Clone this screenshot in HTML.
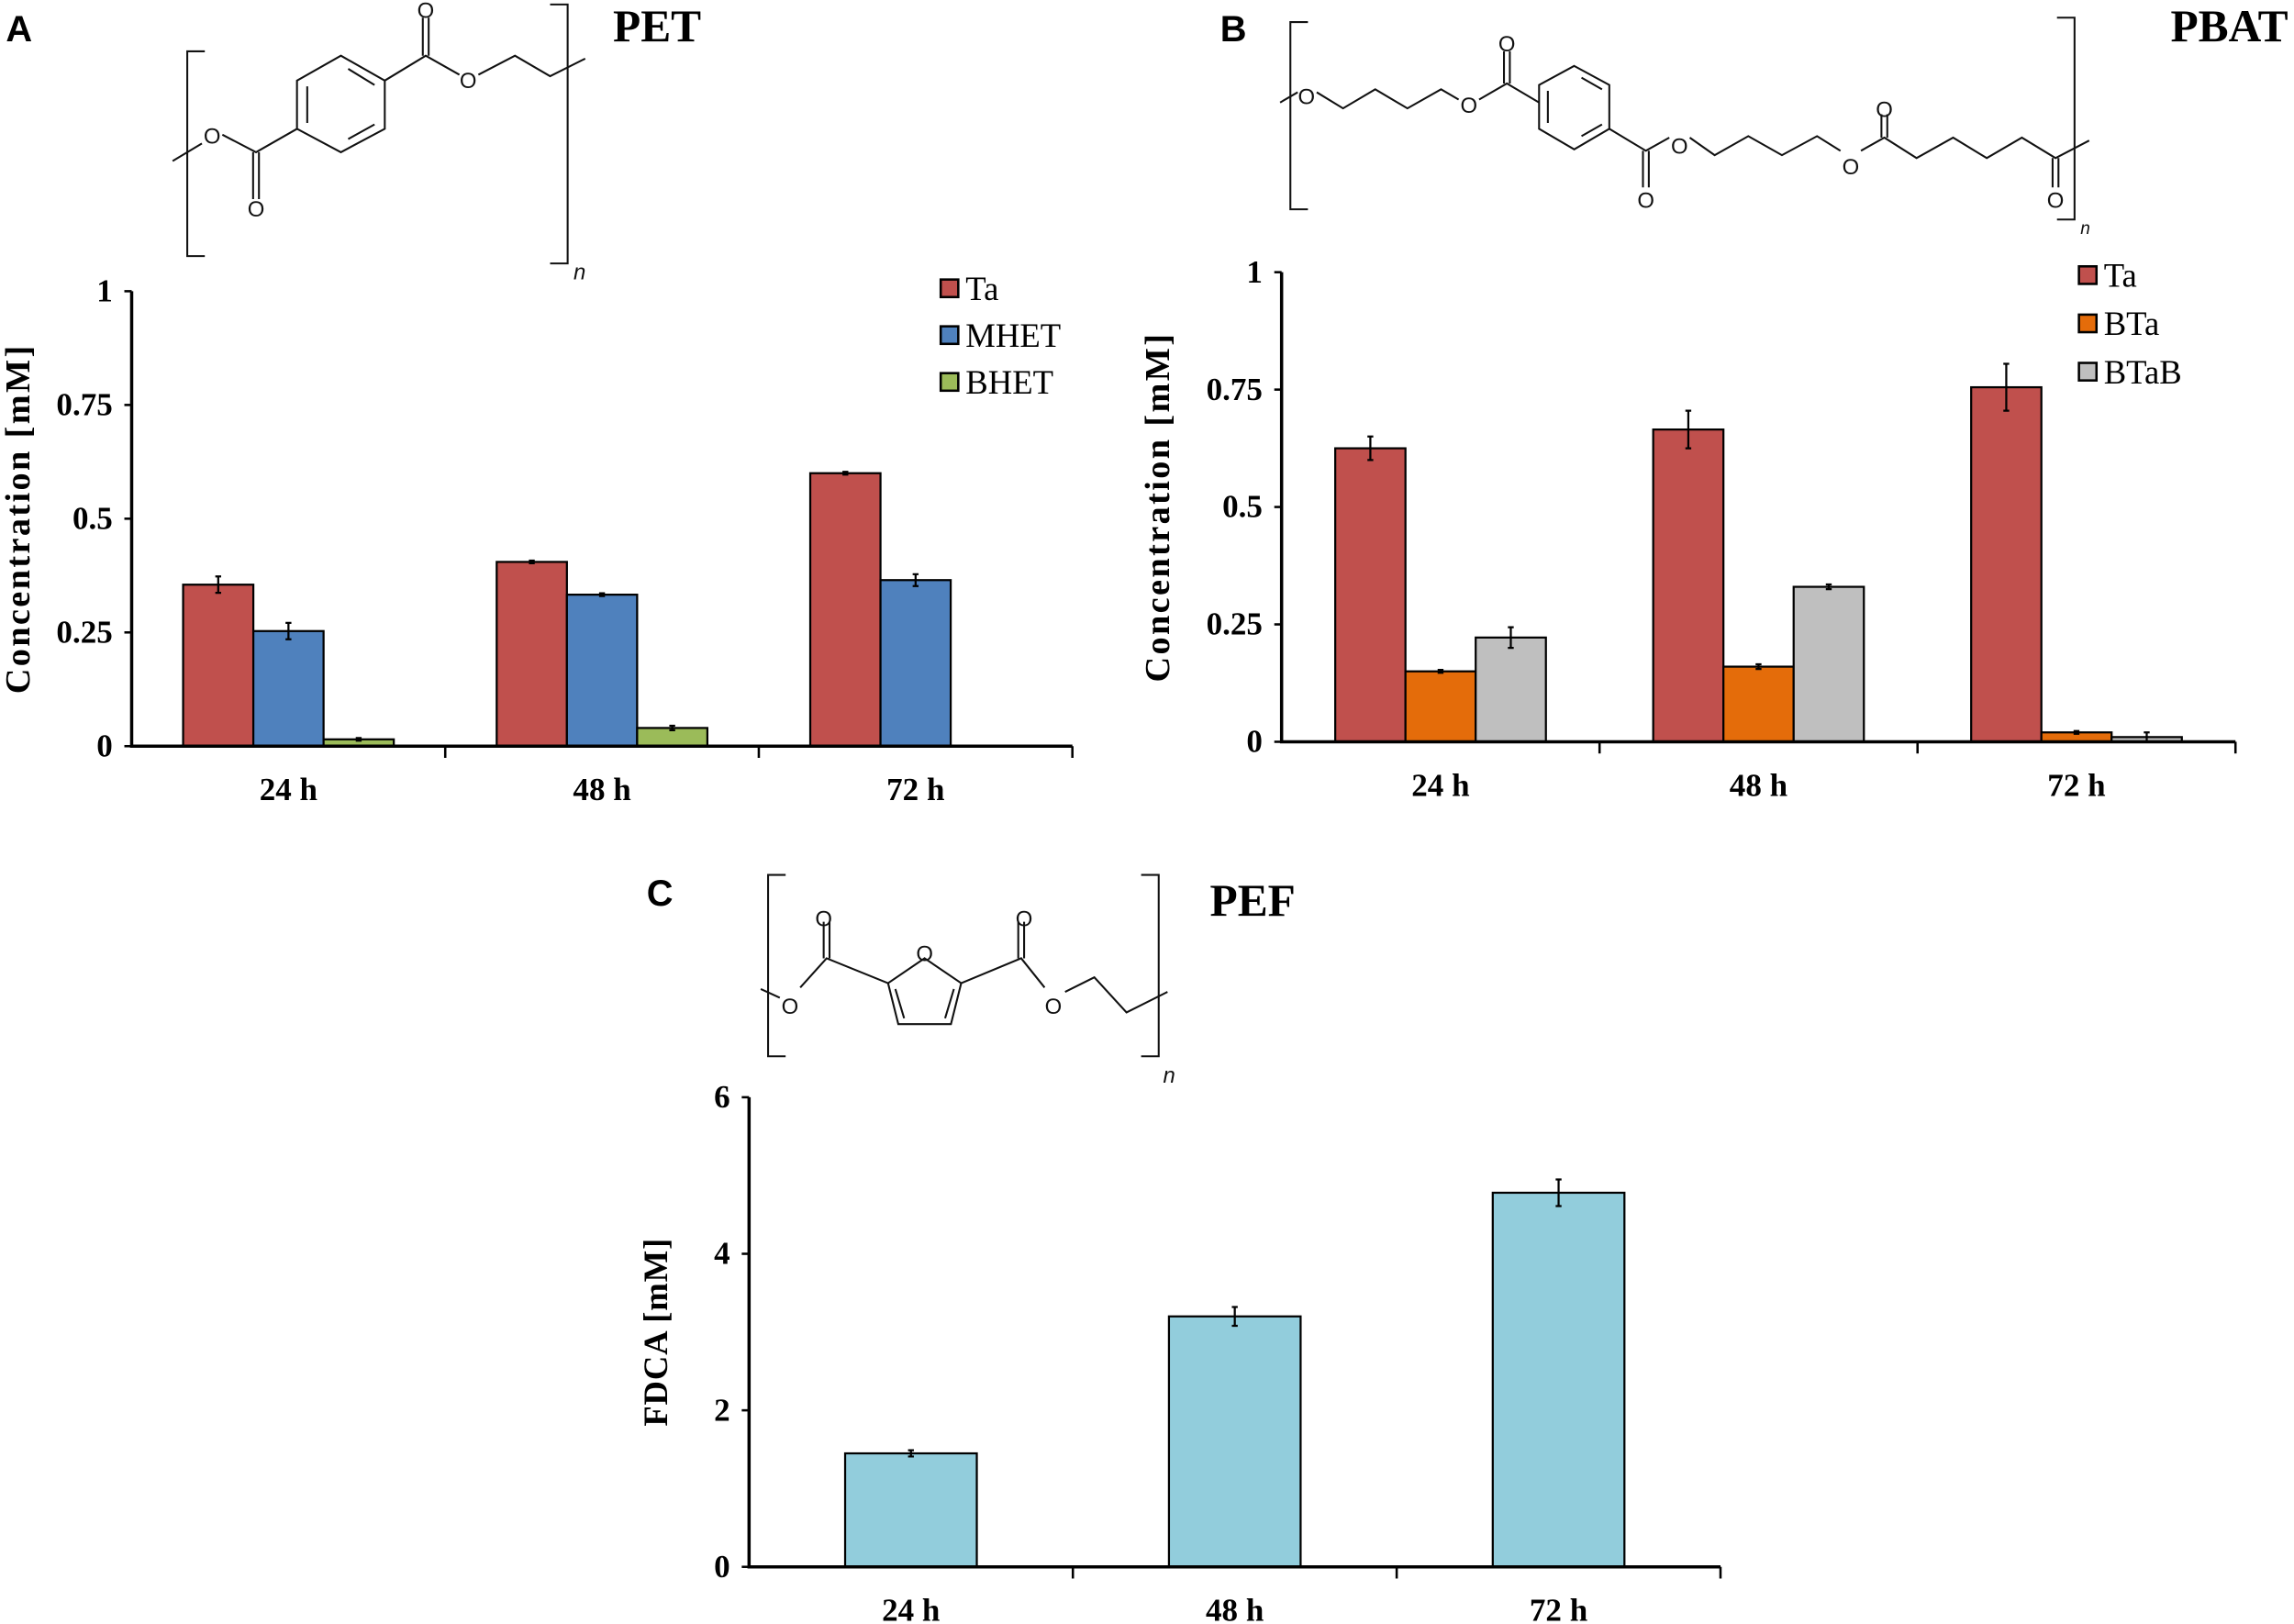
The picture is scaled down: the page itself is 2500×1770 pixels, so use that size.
<!DOCTYPE html>
<html><head><meta charset="utf-8"><style>
html,body{margin:0;padding:0;background:#fff;}
svg{display:block;}
.t{font-family:"Liberation Serif",serif;}
.b{font-weight:bold;}
</style></head><body>
<svg id="fig" width="2500" height="1770" viewBox="0 0 1568 1110" xmlns="http://www.w3.org/2000/svg">
<g id="structs" fill="none" stroke="#111" stroke-width="1.3"></g>
<g id="labels">
<text x="4" y="28" font-family="Liberation Sans,sans-serif" font-weight="bold" font-size="25">A</text>
<text x="834" y="28" font-family="Liberation Sans,sans-serif" font-weight="bold" font-size="25">B</text>
<text x="442" y="619" font-family="Liberation Sans,sans-serif" font-weight="bold" font-size="25">C</text>
<text x="419" y="28" class="t b" font-size="31">PET</text>
<text x="1564" y="28" class="t b" font-size="31" text-anchor="end">PBAT</text>
<text x="827" y="626" class="t b" font-size="31">PEF</text>
</g>
<g id="charts"></g>
</svg>
<script>
// Panel A data
const catsA = ["24 h","48 h","72 h"];
const seriesNamesA = ["Ta","MHET","BHET"];
const taA = [0.355,0.405,0.60];
const mhetA = [0.253,0.333,0.365];
const bhetA = [0.015,0.04,0];
const taErrA = [0.018,0.003,0.003];
const mhetErrA = [0.018,0.003,0.013];
const bhetErrA = [0.003,0.005,0];
const ticksA = [0,0.25,0.5,0.75,1];
const tickLabelsA = ["0","0.25","0.5","0.75","1"];
// Panel B data
const catsB = ["24 h","48 h","72 h"];
const seriesNamesB = ["Ta","BTa","BTaB"];
const taB = [0.625,0.665,0.755];
const btaB = [0.15,0.16,0.02];
const btabB = [0.222,0.33,0.01];
const taErrB = [0.025,0.04,0.05];
const btaErrB = [0.003,0.005,0.003];
const btabErrB = [0.022,0.005,0.01];
const ticksB = [0,0.25,0.5,0.75,1];
const tickLabelsB = ["0","0.25","0.5","0.75","1"];
// Panel C data
const catsC = ["24 h","48 h","72 h"];
const fdcaC = [1.45,3.2,4.78];
const fdcaErrC = [0.04,0.12,0.17];
const ticksC = [0,2,4,6];
const tickLabelsC = ["0","2","4","6"];

const NS="http://www.w3.org/2000/svg";
function mk(tag,attrs,parent,txt){const e=document.createElementNS(NS,tag);for(const k in attrs)e.setAttribute(k,attrs[k]);if(txt!==undefined)e.textContent=txt;parent.appendChild(e);return e;}

function chart(cfg){
  const root=document.getElementById('charts');
  const g=mk('g',{},root);
  
  
  const yS=v=>cfg.y0-(v-cfg.vmin)/(cfg.vmax-cfg.vmin)*(cfg.y0-cfg.yTop);
  const cw=(cfg.x1-cfg.x0)/cfg.cats.length;
  const xC=i=>cfg.x0+cw*(i+0.5);
  const ns=cfg.series.length;
  cfg.series.forEach((s,si)=>{
    s.vals.forEach((v,i)=>{
      if(v<=0)return;
      const bx=xC(i)-ns*cfg.bw/2+si*cfg.bw;
      const r=mk('rect',{x:bx,y:yS(v),width:cfg.bw,height:cfg.y0-yS(v),fill:s.color,stroke:'#000','stroke-width':1.4},g);
      
      
      const e=s.err[i];
      if(e>0){
        const cx=bx+cfg.bw/2;
        const p=mk('path',{d:`M${cx},${yS(v+e)}V${yS(v-e)}M${cx-2},${yS(v+e)}H${cx+2}M${cx-2},${yS(v-e)}H${cx+2}`,stroke:'#000','stroke-width':1.4,fill:'none'},g);
        
        
      }
    });
  });
  const ax=mk('path',{d:`M${cfg.x0},${cfg.yTop}V${cfg.y0}H${cfg.x1}`,stroke:'#000','stroke-width':2.2,fill:'none'},g);
  
  
  cfg.ticks.forEach((t,i)=>{
    const y=yS(t);
    const tk=mk('line',{x1:cfg.x0-5,x2:cfg.x0,y1:y,y2:y,stroke:'#000','stroke-width':1.6},g);
    
    
    const tl=mk('text',{x:cfg.x0-13,y:y+7,'text-anchor':'end','font-size':22,'class':'t b'},g,cfg.tickLabels[i]);
    
    
  });
  for(let i=1;i<=cfg.cats.length;i++){
    const x=cfg.x0+cw*i;
    const tk=mk('line',{x1:x,x2:x,y1:cfg.y0,y2:cfg.y0+8,stroke:'#000','stroke-width':1.6},g);
    
    
  }
  cfg.cats.forEach((c,i)=>{
    const tl=mk('text',{x:xC(i),y:cfg.y0+37,'text-anchor':'middle','font-size':22,'class':'t b'},g,c);
    
    
  });
  const yt=mk('text',{x:0,y:0,'text-anchor':'middle','font-size':cfg.titleSize,'letter-spacing':cfg.titleLS,'class':'t b',transform:`translate(${cfg.titleX},${(cfg.y0+cfg.yTop)/2}) rotate(-90)`},g,cfg.title);
  
  
  if(cfg.legend){
    cfg.series.forEach((s,si)=>{
      const y=cfg.legend.y+si*cfg.legend.dy;
      const sq=mk('rect',{x:cfg.legend.x,y:y-6,width:12,height:12,fill:s.color,stroke:'#000','stroke-width':1.6},g);
      
      
      const lt=mk('text',{x:cfg.legend.x+17,y:y+8,'font-size':23,'class':'t'},g,s.label);
      
      
    });
  }
}

chart({name:'chart-pet',x0:90,x1:733,y0:510,yTop:199,vmin:0,vmax:1,bw:48,cats:catsA,ticks:ticksA,tickLabels:tickLabelsA,title:'Concentration  [mM]',titleX:20,titleSize:24,titleLS:1.5,
  legend:{x:643,y:197,dy:32},
  series:[{key:'ta',label:seriesNamesA[0],vals:taA,err:taErrA,color:'#C0504D'},{key:'mhet',label:seriesNamesA[1],vals:mhetA,err:mhetErrA,color:'#4F81BD'},{key:'bhet',label:seriesNamesA[2],vals:bhetA,err:bhetErrA,color:'#9BBB59'}]});
chart({name:'chart-pbat',x0:876,x1:1528,y0:507,yTop:186,vmin:0,vmax:1,bw:48,cats:catsB,ticks:ticksB,tickLabels:tickLabelsB,title:'Concentration  [mM]',titleX:799,titleSize:24,titleLS:1.5,
  legend:{x:1421,y:188,dy:33},
  series:[{key:'ta',label:seriesNamesB[0],vals:taB,err:taErrB,color:'#C0504D'},{key:'bta',label:seriesNamesB[1],vals:btaB,err:btaErrB,color:'#E46C0A'},{key:'btab',label:seriesNamesB[2],vals:btabB,err:btabErrB,color:'#BFBFBF'}]});
chart({name:'chart-pef',x0:512,x1:1176,y0:1071,yTop:750,vmin:0,vmax:6,bw:90,cats:catsC,ticks:ticksC,tickLabels:tickLabelsC,title:'FDCA [mM]',titleX:456,titleSize:23,titleLS:0.5,
  legend:null,
  series:[{key:'fdca',label:'FDCA',vals:fdcaC,err:fdcaErrC,color:'#92CDDC'}]});

const S=document.getElementById('structs');
function P(d){const p=mk('path',{d:d},S);}
function O(x,y,t){const e=mk('text',{x:x,y:y+5,'text-anchor':'middle','font-family':'Liberation Sans,sans-serif','font-size':15,fill:'#111',stroke:'none'},S,t||'O');}
// PET
P('M140,35H128V175H140');P('M376,3H388V180H376');
P('M233,38L263,55L263,88L233,104L203,88L203,55Z');P('M238,47L256,58M256,85L238,95M210,59V84');
P('M203,88L175,104L152,92M138,98L118,110M173,104V136M177,104V136');
P('M263,55L291,38L314,51M327,51L352,38L376,52L400,40M289,38V12M293,38V12');
O(145,93);O(291,7);O(320,55);O(175,143);
mk('text',{x:392,y:191,'font-family':'Liberation Sans,sans-serif','font-style':'italic','font-size':15,fill:'#111',stroke:'none'},S,'n');
// PBAT
P('M894,15H882V143H894');P('M1406,12H1418V150H1406');
P('M875,70L887,63M900,63L918,74L940,61L962,74L985,61L997,68');
P('M1011,68L1030,57L1052,70M1028,57V35M1032,57V35');
P('M1076,45L1100,58L1100,88L1076,102L1052,88L1052,58Z');P('M1081,53L1095,61M1095,85L1081,93M1058,62V84');
P('M1100,88L1125,103L1141,94M1123,103V128M1127,103V128');
P('M1155,94L1172,106L1195,93L1218,106L1242,93L1258,103');
P('M1272,103L1288,94L1310,108L1335,94L1358,108L1382,94L1405,108L1428,96M1286,94V78M1290,94V78M1403,108V128M1407,108V128');
O(893,66);O(1004,72);O(1030,30);O(1125,137);O(1148,100);O(1265,114);O(1288,75);O(1405,137);
mk('text',{x:1422,y:160,'font-family':'Liberation Sans,sans-serif','font-style':'italic','font-size':12,fill:'#111',stroke:'none'},S,'n');
// PEF
P('M537,598H525V722H537');P('M780,598H792V722H780');
P('M632,655L657,672L650,700L614,700L607,672Z');P('M652,676L646,696M612,676L618,696');
P('M607,672L565,655L547,675M533,682L520,676M563,655V630M567,655V630');
P('M657,672L698,655L714,675M728,678L748,668L770,692L798,678M696,655V630M700,655V630');
O(632,652);O(563,628);O(540,688);O(700,628);O(720,688);
mk('text',{x:795,y:740,'font-family':'Liberation Sans,sans-serif','font-style':'italic','font-size':15,fill:'#111',stroke:'none'},S,'n');
</script>
</body></html>
